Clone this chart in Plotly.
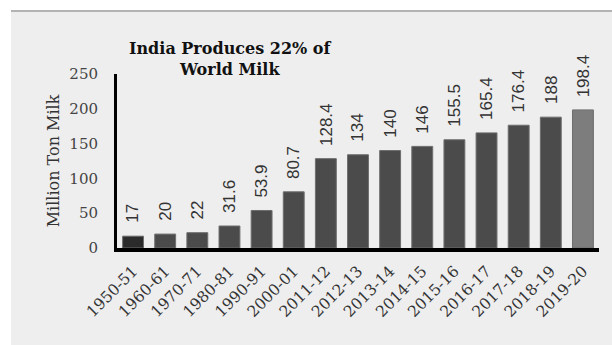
import plotly.graph_objects as go

years = ["1950-51", "1960-61", "1970-71", "1980-81", "1990-91", "2000-01",
         "2011-12", "2012-13", "2013-14", "2014-15", "2015-16", "2016-17",
         "2017-18", "2018-19", "2019-20"]
milk = [17, 20, 22, 31.6, 53.9, 80.7, 128.4, 134, 140, 146, 155.5, 165.4, 176.4, 188, 198.4]
labels = ["17", "20", "22", "31.6", "53.9", "80.7", "128.4", "134", "140", "146",
          "155.5", "165.4", "176.4", "188", "198.4"]
y_ticks = [0, 50, 100, 150, 200, 250]

colors = ["#2b2b2b"] + ["#4b4b4b"] * 13 + ["#7d7d7d"]

fig = go.Figure()
fig.add_trace(go.Bar(
    x=years, y=milk,
    marker=dict(color=colors, line=dict(color="#6e6e6e", width=1)),
    cliponaxis=False,
))

serif = "DejaVu Serif"
annotations = [
    dict(text=lab, x=yr, y=val, xref="x", yref="y", textangle=-90,
         xanchor="center", yanchor="bottom", yshift=11, showarrow=False,
         font=dict(family="Liberation Sans", size=17, color="#333333"))
    for yr, val, lab in zip(years, milk, labels)
]
annotations.append(
    dict(text="<b>India Produces 22% of<br>World Milk</b>", xref="paper", yref="paper",
         x=(230-117)/482, y=(248-37)/174, xanchor="center", yanchor="top",
         showarrow=False, align="center",
         font=dict(family=serif, size=16, color="#111111"))
)

fig.update_layout(
    width=612, height=345,
    margin=dict(l=117, r=13, t=74, b=97),
    paper_bgcolor="white",
    plot_bgcolor="rgba(0,0,0,0)",
    bargap=0.35,
    showlegend=False,
    xaxis=dict(
        type="category", tickangle=-45, showline=True, linecolor="black", linewidth=4,
        showgrid=False, ticks="", tickfont=dict(family=serif, size=15.5, color="#333333"),
        ticklabelstandoff=4,
        range=[-0.5, 14.5],
    ),
    yaxis=dict(
        range=[0, 250], tickvals=y_ticks, showline=True, linecolor="black", linewidth=3,
        showgrid=False, zeroline=False, ticks="",
        tickfont=dict(family=serif, size=15, color="#444444"),
        ticklabelstandoff=13,
        title=dict(text="Million Ton Milk", font=dict(family=serif, size=16, color="#333333"),
                   standoff=6),
    ),
    shapes=[
        dict(type="rect", xref="paper", yref="paper", layer="below",
             x0=(11-117)/482, x1=(612-117)/482, y0=-97/174, y1=(248-12)/174,
             fillcolor="#eeeeee", line=dict(width=0)),
        dict(type="line", xref="paper", yref="paper",
             x0=(11-117)/482, x1=(612-117)/482, y0=(248-11)/174, y1=(248-11)/174,
             line=dict(color="#666666", width=1)),
    ],
    annotations=annotations,
)

fig.write_html("out.html")
